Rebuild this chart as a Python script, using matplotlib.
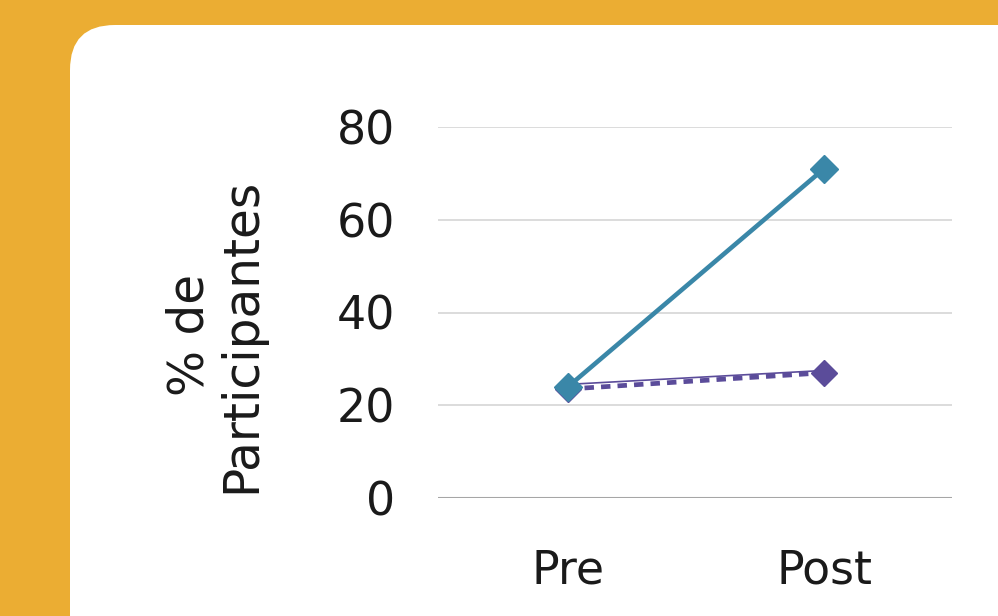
import matplotlib
matplotlib.use("Agg")
import matplotlib.pyplot as plt
from matplotlib.patches import FancyBboxPatch

# data
categories = ["Pre", "Post"]
series_a = [24, 71]      # blue solid
series_b = [23.5, 27]    # purple dashed
series_c = [24.5, 27.5]  # purple thin
y_ticks = [0, 20, 40, 60, 80]

plt.rcParams['font.family'] = ['DejaVu Sans']

W, H = 998, 616
fig = plt.figure(figsize=(W / 100, H / 100), dpi=100)
fig.patch.set_facecolor('#EBAD33')

# white rounded panel, runs off the right and bottom edges
panel = FancyBboxPatch((70 / W, -0.2), 1.2, (H - 25) / H + 0.2,
                       boxstyle="round,pad=0,rounding_size=0.045",
                       transform=fig.transFigure, facecolor='white',
                       edgecolor='none', mutation_aspect=W / H, zorder=-5)
fig.patches.append(panel)

ax = fig.add_axes([438 / W, 1 - 498 / H, (952 - 438) / W, (498 - 127) / H])
ax.set_facecolor('none')

x = list(range(len(categories)))
ax.plot(x, series_c, color='#5B4C9A', linewidth=1.2, zorder=3)
ax.plot(x, series_b, color='#5B4C9A', linewidth=3.4, linestyle=(0, (2.0, 1.5)),
        marker='D', markersize=13, zorder=3)
ax.plot(x, series_a, color='#3A87A8', linewidth=3.3,
        marker='D', markersize=14, zorder=4)

ax.set_xlim(-0.508, 1.5)
ax.set_ylim(0, 80)
ax.set_yticks(y_ticks)
ax.set_xticks(x)
ax.set_xticklabels(categories)
ax.tick_params(axis='both', length=0, labelsize=33, colors='#1a1a1a')
ax.tick_params(axis='y', pad=31)
ax.tick_params(axis='x', pad=36)

for v in y_ticks[1:]:
    ax.axhline(v, color='#D9D9D9', linewidth=1.3, zorder=1)
ax.axhline(0, color='#A6A6A6', linewidth=1.5, zorder=2)
for s in ax.spines.values():
    s.set_visible(False)

fig.text(215 / W, 1 - 335 / H, "% de\nParticipantes", rotation=90,
         ha='center', va='center', fontsize=35, color='#1a1a1a',
         linespacing=1.1)

fig.savefig("out.png", dpi=100, facecolor=fig.get_facecolor())
